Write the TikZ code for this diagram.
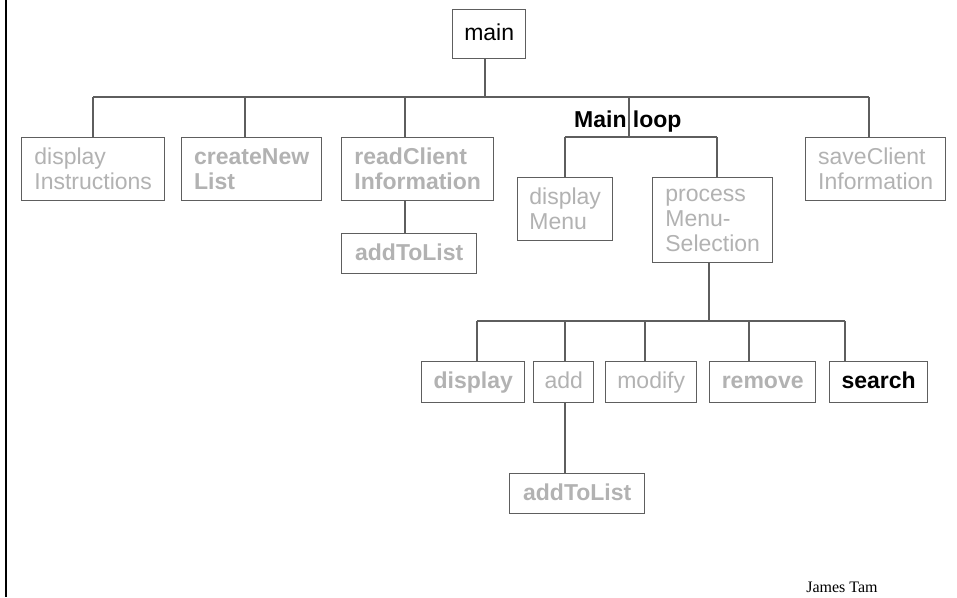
\documentclass[tikz,border=0pt]{standalone}
\usepackage{fontspec}
\setmainfont{Liberation Sans}
\newfontfamily\authorfont{Liberation Serif}
\definecolor{linegray}{HTML}{5E5E5E}
\definecolor{textgray}{HTML}{B2B2B2}

\begin{document}
\begin{tikzpicture}[x=1pt,y=-1pt,
  wire/.style={draw=linegray, line width=1.4pt},
  box/.style={draw=linegray, line width=1.4pt, anchor=north west, inner sep=0pt,
    align=left, text=textgray, font=\fontsize{23}{25}\selectfont},
  boldbox/.style={box, font=\fontsize{23}{25}\selectfont\bfseries},
  blackbox/.style={box, text=black},
  oneline/.style={text height=18pt, text depth=5pt},
  label/.style={inner sep=0pt, font=\fontsize{23}{25}\selectfont\bfseries}]

\useasboundingbox (0,0) rectangle (957,597);
\fill[white] (0,0) rectangle (957,597);

% left page edge
\coordinate (edgeTop) at (6,0);
\coordinate (edgeBot) at (6,597);
\draw[line width=2.5pt] (edgeTop) -- (edgeBot);

% root
\node[blackbox, oneline, minimum width=73pt, minimum height=49pt] (main) at (452,9) {main};

% first level
\node[box, minimum width=143pt, minimum height=63pt] (dispInstr) at (21,137) {display\\Instructions};
\node[boldbox, minimum width=140pt, minimum height=63pt] (createList) at (181,137) {createNew\\List};
\node[boldbox, minimum width=152pt, minimum height=63pt] (readClient) at (341,137) {readClient\\Information};
\node[box, minimum width=140pt, minimum height=63pt] (saveClient) at (805,137) {saveClient\\Information};
\node[boldbox, oneline, minimum width=135pt, minimum height=40pt] (addList1) at (341,233) {addToList};

% main loop
\node[label, anchor=base west] (loopLabel) at (574,127) {Main loop};
\node[box, minimum width=95pt, minimum height=63pt] (dispMenu) at (517,177) {display\\Menu};
\node[box, minimum width=120pt, minimum height=85pt] (procMenu) at (652,177) {process\\Menu-\\Selection};

% menu actions
\node[boldbox, oneline, minimum width=103pt, minimum height=41pt] (display) at (421,361) {display};
\node[box, oneline, minimum width=60pt, minimum height=41pt] (add) at (533,361) {add};
\node[box, oneline, minimum width=91pt, minimum height=41pt] (modify) at (605,361) {modify};
\node[boldbox, oneline, minimum width=106pt, minimum height=41pt] (remove) at (709,361) {remove};
\node[boldbox, oneline, text=black, minimum width=98pt, minimum height=41pt] (search) at (829,361) {search};
\node[boldbox, oneline, minimum width=135pt, minimum height=40pt] (addList2) at (509,473) {addToList};

% bus from main
\coordinate (busMain) at (485,97);
\coordinate (busL) at (93,97);
\coordinate (busR) at (869,97);
\coordinate (tCreate) at (245,97);
\coordinate (tRead) at (405,97);
\coordinate (tLoop) at (629,97);
\coordinate (loopBus) at (629,137);
\draw[wire] (main.south -| busMain) -- (busMain);
\draw[wire] (busL) -- (busR);
\draw[wire] (busL) -- (busL |- dispInstr.north);
\draw[wire] (tCreate) -- (tCreate |- createList.north);
\draw[wire] (tRead) -- (tRead |- readClient.north);
\draw[wire] (busR) -- (busR |- saveClient.north);
\draw[wire] (tLoop) -- (loopBus);
\draw[wire] (tRead |- readClient.south) -- (tRead |- addList1.north);

% main loop bus
\coordinate (loopL) at (565,137);
\coordinate (loopR) at (717,137);
\draw[wire] (loopL) -- (loopR);
\draw[wire] (loopL) -- (loopL |- dispMenu.north);
\draw[wire] (loopR) -- (loopR |- procMenu.north);

% selection bus
\coordinate (selStem) at (709,321);
\coordinate (selL) at (477,321);
\coordinate (selR) at (845,321);
\coordinate (tAdd) at (565,321);
\coordinate (tModify) at (645,321);
\coordinate (tRemove) at (749,321);
\draw[wire] (selStem |- procMenu.south) -- (selStem);
\draw[wire] (selL) -- (selR);
\draw[wire] (selL) -- (selL |- display.north);
\draw[wire] (tAdd) -- (tAdd |- add.north);
\draw[wire] (tModify) -- (tModify |- modify.north);
\draw[wire] (tRemove) -- (tRemove |- remove.north);
\draw[wire] (selR) -- (selR |- search.north);
\draw[wire] (tAdd |- add.south) -- (tAdd |- addList2.north);

% footer
\node[anchor=base, inner sep=0pt, font=\authorfont\fontsize{16}{19}\selectfont] (author) at (842,592) {James Tam};

\end{tikzpicture}
\end{document}
